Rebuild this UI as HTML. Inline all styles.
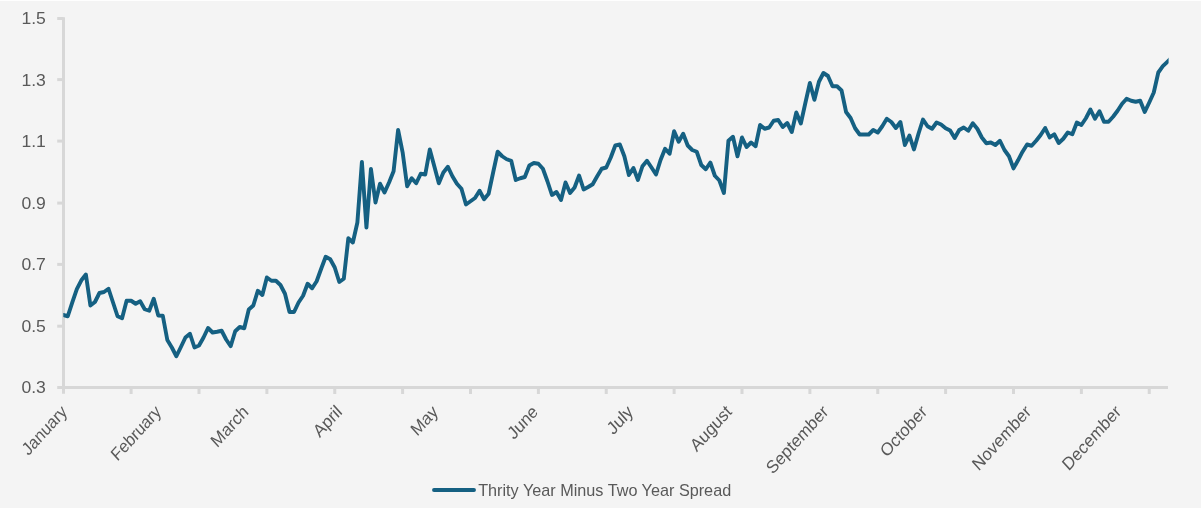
<!DOCTYPE html>
<html><head><meta charset="utf-8"><title>Chart</title>
<style>html,body{margin:0;padding:0;background:#f4f4f4;overflow:hidden}body{width:1201px;height:508px;position:relative}</style></head>
<body>
<svg width="1201" height="508" viewBox="0 0 1201 508" style="position:absolute;left:0;top:0">
<rect width="1201" height="508" fill="#f4f4f4"/>
<rect width="1201" height="1" fill="#fefefe"/>
<g stroke="#d7d7d7" stroke-width="3" fill="none">
<line x1="63.5" y1="17.3" x2="63.5" y2="393.7"/>
<line x1="57.2" y1="387.6" x2="1168" y2="387.6"/>
</g>
<g stroke="#d7d7d7" stroke-width="3" fill="none">
<line x1="131.12" y1="387.6" x2="131.12" y2="394"/>
<line x1="199.00" y1="387.6" x2="199.00" y2="394"/>
<line x1="266.88" y1="387.6" x2="266.88" y2="394"/>
<line x1="334.75" y1="387.6" x2="334.75" y2="394"/>
<line x1="402.62" y1="387.6" x2="402.62" y2="394"/>
<line x1="470.50" y1="387.6" x2="470.50" y2="394"/>
<line x1="538.38" y1="387.6" x2="538.38" y2="394"/>
<line x1="606.25" y1="387.6" x2="606.25" y2="394"/>
<line x1="674.12" y1="387.6" x2="674.12" y2="394"/>
<line x1="742.00" y1="387.6" x2="742.00" y2="394"/>
<line x1="809.88" y1="387.6" x2="809.88" y2="394"/>
<line x1="877.75" y1="387.6" x2="877.75" y2="394"/>
<line x1="945.62" y1="387.6" x2="945.62" y2="394"/>
<line x1="1013.50" y1="387.6" x2="1013.50" y2="394"/>
<line x1="1081.38" y1="387.6" x2="1081.38" y2="394"/>
<line x1="1149.25" y1="387.6" x2="1149.25" y2="394"/>
<line x1="57.2" y1="18.5" x2="63.5" y2="18.5"/>
<line x1="57.2" y1="79.6" x2="63.5" y2="79.6"/>
<line x1="57.2" y1="141.1" x2="63.5" y2="141.1"/>
<line x1="57.2" y1="203.1" x2="63.5" y2="203.1"/>
<line x1="57.2" y1="264.4" x2="63.5" y2="264.4"/>
<line x1="57.2" y1="326.2" x2="63.5" y2="326.2"/>
</g>
<clipPath id="c"><rect x="63.3" y="0" width="1105.3" height="400"/></clipPath>
<polyline clip-path="url(#c)" points="58.73,313.75 63.25,315.00 67.78,316.25 72.30,302.30 76.83,289.20 81.35,280.30 85.88,274.50 90.40,305.50 94.93,302.00 99.45,293.00 103.97,292.00 108.50,288.75 113.03,302.50 117.55,316.25 122.08,318.25 126.60,300.75 131.12,300.75 135.65,303.75 140.18,301.25 144.70,309.25 149.23,310.75 153.75,298.75 158.28,315.50 162.80,315.75 167.32,340.00 171.85,347.50 176.38,356.25 180.90,347.00 185.43,337.50 189.95,333.75 194.48,347.50 199.00,345.50 203.53,337.50 208.05,328.00 212.58,332.50 217.10,331.75 221.62,330.75 226.15,339.50 230.68,346.25 235.20,331.25 239.73,327.00 244.25,328.25 248.78,309.50 253.30,305.50 257.83,290.75 262.35,295.00 266.88,277.50 271.40,280.75 275.93,280.75 280.45,285.00 284.98,293.75 289.50,312.00 294.02,312.00 298.55,302.50 303.08,295.75 307.60,283.75 312.12,288.25 316.65,281.25 321.18,268.75 325.70,256.75 330.23,259.25 334.75,267.50 339.28,282.00 343.80,278.75 348.33,238.25 352.85,242.50 357.38,222.50 361.90,162.00 366.43,227.50 370.95,169.00 375.48,202.50 380.00,183.75 384.53,192.50 389.05,182.50 393.58,171.25 398.10,130.00 402.62,152.30 407.15,186.25 411.68,178.25 416.20,183.25 420.73,173.75 425.25,174.50 429.78,149.50 434.30,166.25 438.83,183.25 443.35,172.50 447.88,166.75 452.40,176.25 456.93,183.75 461.45,188.75 465.98,204.50 470.50,201.25 475.03,198.00 479.55,190.75 484.08,199.25 488.60,193.75 493.13,172.50 497.65,151.75 502.18,156.25 506.70,159.25 511.23,160.75 515.75,180.00 520.28,178.25 524.80,177.00 529.33,165.50 533.85,163.00 538.38,163.75 542.90,168.75 547.42,181.25 551.95,195.00 556.48,192.00 561.00,200.00 565.53,182.50 570.05,193.00 574.58,187.50 579.10,175.50 583.62,189.50 588.15,187.00 592.68,184.25 597.20,176.25 601.73,168.75 606.25,167.50 610.78,157.50 615.30,145.50 619.83,144.50 624.35,156.25 628.88,175.00 633.40,168.00 637.93,180.00 642.45,166.25 646.98,160.75 651.50,167.50 656.03,174.50 660.55,160.00 665.08,148.75 669.60,153.75 674.12,131.25 678.65,141.75 683.18,133.75 687.70,145.50 692.23,150.00 696.75,151.75 701.28,165.00 705.80,169.25 710.33,162.50 714.85,175.75 719.38,180.50 723.90,193.00 728.43,140.75 732.95,136.75 737.48,156.25 742.00,137.50 746.53,147.00 751.05,142.50 755.58,146.25 760.10,125.00 764.62,128.75 769.15,127.50 773.68,120.75 778.20,120.00 782.73,127.00 787.25,123.00 791.78,132.00 796.30,112.50 800.83,123.50 805.35,103.00 809.88,83.00 814.40,99.75 818.93,81.75 823.45,73.00 827.98,76.00 832.50,86.25 837.03,86.25 841.55,90.50 846.08,112.00 850.60,118.00 855.13,128.25 859.65,134.50 864.18,134.50 868.70,134.50 873.23,130.00 877.75,132.50 882.28,126.25 886.80,118.75 891.33,122.00 895.85,128.00 900.38,122.00 904.90,145.00 909.43,135.50 913.95,149.50 918.48,133.75 923.00,119.50 927.53,126.25 932.05,128.75 936.58,122.50 941.10,124.50 945.63,128.25 950.15,130.50 954.68,138.00 959.20,130.00 963.73,127.50 968.25,130.75 972.78,123.25 977.30,128.75 981.83,137.50 986.35,143.25 990.88,142.50 995.40,145.00 999.93,140.75 1004.45,150.00 1008.98,156.25 1013.50,168.40 1018.03,160.30 1022.55,151.70 1027.08,144.50 1031.60,145.75 1036.12,140.75 1040.65,135.00 1045.18,128.00 1049.70,137.50 1054.22,134.25 1058.75,143.00 1063.28,138.75 1067.80,132.50 1072.33,134.25 1076.85,122.50 1081.38,125.00 1085.90,118.25 1090.43,109.50 1094.95,118.75 1099.48,111.25 1104.00,121.75 1108.53,121.75 1113.05,116.75 1117.58,110.75 1122.10,103.75 1126.62,98.75 1131.15,100.75 1135.68,101.75 1140.20,100.75 1144.73,112.00 1149.25,102.50 1153.78,92.50 1158.30,72.50 1162.83,66.20 1167.35,61.80 1171.88,57.40" fill="none" stroke="#156082" stroke-width="3.9" stroke-linejoin="round" stroke-linecap="round"/>
<g font-family="'Liberation Sans', sans-serif" font-size="18" fill="#595959">
<text transform="translate(45.9,24.0) scale(1.035,1)" text-anchor="end" font-size="17">1.5</text>
<text transform="translate(45.9,86.0) scale(1.035,1)" text-anchor="end" font-size="17">1.3</text>
<text transform="translate(45.9,147.0) scale(1.035,1)" text-anchor="end" font-size="17">1.1</text>
<text transform="translate(45.9,209.0) scale(1.035,1)" text-anchor="end" font-size="17">0.9</text>
<text transform="translate(45.9,269.9) scale(1.035,1)" text-anchor="end" font-size="17">0.7</text>
<text transform="translate(45.9,331.9) scale(1.035,1)" text-anchor="end" font-size="17">0.5</text>
<text transform="translate(45.9,393.0) scale(1.035,1)" text-anchor="end" font-size="17">0.3</text>
<text transform="translate(68,412.8) scale(0.91,1) rotate(-45) scale(0.96,1)" text-anchor="end" x="0" y="0">January</text>
<text transform="translate(162,412.8) scale(0.91,1) rotate(-45) scale(0.96,1)" text-anchor="end" x="0" y="0">February</text>
<text transform="translate(249.5,412.8) scale(0.91,1) rotate(-45) scale(1,1)" text-anchor="end" x="0" y="0">March</text>
<text transform="translate(343,412.8) scale(0.91,1) rotate(-45) scale(1,1)" text-anchor="end" x="0" y="0">April</text>
<text transform="translate(439,412.8) scale(0.91,1) rotate(-45) scale(1,1)" text-anchor="end" x="0" y="0">May</text>
<text transform="translate(539,412.8) scale(0.91,1) rotate(-45) scale(1,1)" text-anchor="end" x="0" y="0">June</text>
<text transform="translate(634,412.8) scale(0.91,1) rotate(-45) scale(1,1)" text-anchor="end" x="0" y="0">July</text>
<text transform="translate(732.8,412.8) scale(0.91,1) rotate(-45) scale(1,1)" text-anchor="end" x="0" y="0">August</text>
<text transform="translate(829.3,412.8) scale(0.91,1) rotate(-45) scale(1,1)" text-anchor="end" x="0" y="0">September</text>
<text transform="translate(928,412.8) scale(0.91,1) rotate(-45) scale(1,1)" text-anchor="end" x="0" y="0">October</text>
<text transform="translate(1032,412.8) scale(0.91,1) rotate(-45) scale(1,1)" text-anchor="end" x="0" y="0">November</text>
<text transform="translate(1122,412.8) scale(0.91,1) rotate(-45) scale(1,1)" text-anchor="end" x="0" y="0">December</text>
<text x="478.2" y="496" font-size="17" textLength="253" lengthAdjust="spacingAndGlyphs">Thrity Year Minus Two Year Spread</text>
</g>
<line x1="434" y1="490" x2="474" y2="490" stroke="#156082" stroke-width="3.9" stroke-linecap="round"/>
</svg>
</body></html>
